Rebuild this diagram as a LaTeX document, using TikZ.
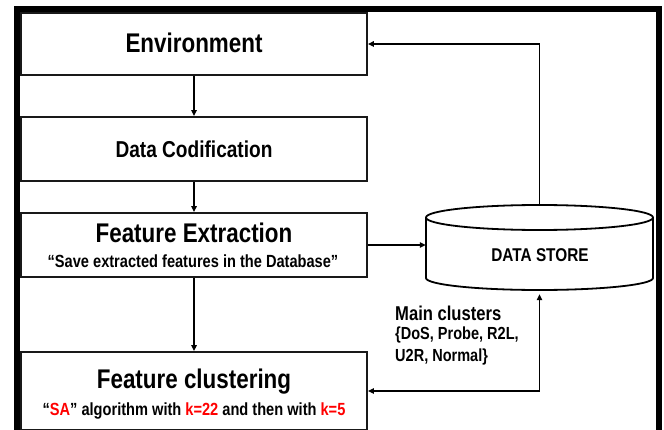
\documentclass[tikz,border=0pt]{standalone}
\usepackage{fontspec}
\setmainfont{Liberation Sans}[FakeStretch=0.83]
\usetikzlibrary{arrows.meta}
\definecolor{kred}{RGB}{255,0,0}
\begin{document}
\begin{tikzpicture}[x=1pt,y=1pt,
  box/.style={draw=black!90, line width=1.8pt, fill=white, minimum width=346pt, inner sep=0pt},
  arr/.style={line width=1.3pt, -{Triangle[length=6pt,width=5.5pt]}},
  darr/.style={line width=1.3pt, {Triangle[length=6pt,width=5.5pt]}-{Triangle[length=6pt,width=5.5pt]}},
  ttl/.style={anchor=base, inner sep=0pt, font=\bfseries\fontsize{27}{30}\selectfont},
  mid/.style={anchor=base, inner sep=0pt, font=\bfseries\fontsize{23}{26}\selectfont},
  sub/.style={anchor=base, inner sep=0pt, font=\bfseries\fontsize{17.6}{19}\selectfont},
  lbl/.style={anchor=base west, inner sep=0pt},
  cyl/.style={draw=black, line width=1.8pt, fill=white},
]
\useasboundingbox (0,0) rectangle (664,-430);
\fill[white] (0,0) rectangle (664,-430);
% outer frame
\draw[line width=6pt, line join=miter] (17,-440) -- (17,-9) -- (659,-9) -- (659,-440);

% boxes
\node[box, minimum height=62pt] (env) at (194,-44) {};
\node[ttl] (envt) at (194,-53) {Environment};

\node[box, minimum height=64pt] (dc) at (194,-149) {};
\node[mid] (dct) at (194,-157.5) {Data Codification};

\node[box, minimum height=64pt] (fe) at (194,-245) {};
\node[ttl] (fet) at (194,-243) {Feature Extraction};
\node[sub] (fes) at (193,-268) {“Save extracted features in the Database”};

\node[box, minimum height=78pt] (fc) at (194,-391) {};
\node[ttl] (fct) at (194,-388) {Feature clustering};
\node[sub] (fcs) at (194,-415) {“\textcolor{kred}{SA}” algorithm with \textcolor{kred}{k=22} and then with \textcolor{kred}{k=5}};

% data store cylinder
\node[minimum width=227pt, minimum height=85pt, inner sep=0pt] (ds) at (539.5,-247.5) {};
\draw[cyl] (426,-217.5) -- (426,-278) arc[start angle=180,end angle=360,x radius=113.5,y radius=12] -- (653,-217.5);
\draw[cyl] (539.5,-217.5) ellipse[x radius=113.5, y radius=12.5];
\node[anchor=base, inner sep=0pt, font=\bfseries\fontsize{18.5}{20}\selectfont] (dst) at (540,-261.5) {DATA STORE};

% label
\node[lbl, font=\bfseries\fontsize{20}{22}\selectfont] (mc1) at (395,-320.5) {Main clusters};
\node[lbl, font=\bfseries\fontsize{17.5}{20}\selectfont] (mc2) at (395,-340) {\{DoS, Probe, R2L,};
\node[lbl, font=\bfseries\fontsize{17.5}{20}\selectfont] (mc3) at (395,-361.5) {U2R, Normal\}};

% connectors
\draw[arr] (env) -- (dc);
\draw[arr] (dc) -- (fe);
\draw[arr] (fe) -- (fc);
\draw[arr] (fe.east) -- (fe.east -| ds.west);
\draw[arr] (ds.north) |- (env.east);
\draw[darr, shorten >=4pt] (fc.east) -| (ds.south);
\end{tikzpicture}
\end{document}
